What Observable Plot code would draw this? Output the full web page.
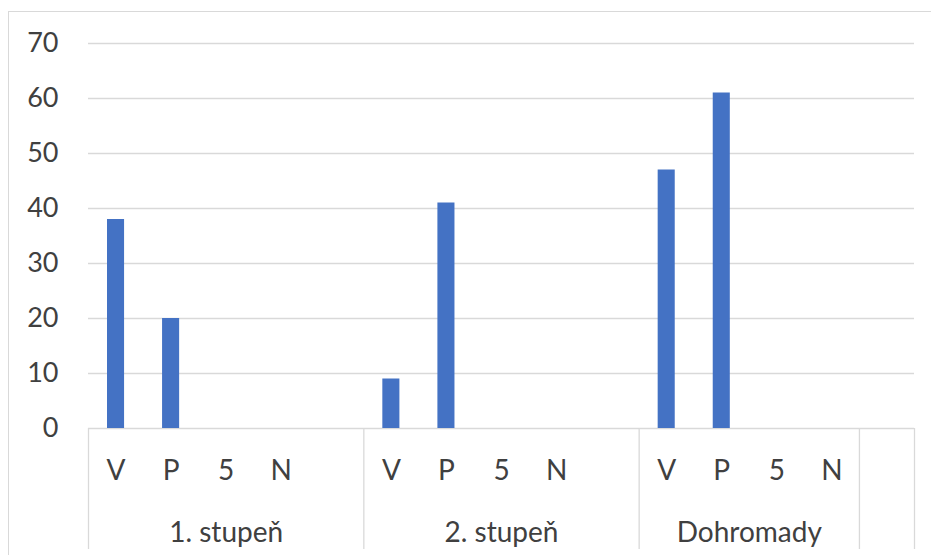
<!DOCTYPE html>
<html>
<head>
<meta charset="utf-8">
<script src="https://cdn.jsdelivr.net/npm/d3@7"></script>
<script src="https://cdn.jsdelivr.net/npm/@observablehq/plot@0.6"></script>
<style>
  html, body { margin: 0; padding: 0; background: #fff; overflow: hidden; }
  #wrap { position: relative; width: 931px; height: 555px; }
  #border { position: absolute; left: 8px; top: 11px; width: 1000px; height: 700px; border: 1px solid #d9d9d9; box-sizing: border-box; }
  #chart { position: absolute; left: 0; top: 0; }
</style>
</head>
<body>
<div id="wrap"><div id="border"></div><div id="chart"></div></div>
<script>
const groups = ["1. stupeň", "2. stupeň", "Dohromady", ""];
const groupSlots = [5, 5, 4, 1];
const categories = ["V", "P", "5", "N"];
const stupen1 = [38, 20, 0, 0];
const stupen2 = [9, 41, 0, 0];
const dohromady = [47, 61, 0, 0];
const yTicks = [0, 10, 20, 30, 40, 50, 60, 70];

const seriesByGroup = [stupen1, stupen2, dohromady];
const starts = [];
let acc = 0;
for (const n of groupSlots) { starts.push(acc); acc += n; }
const totalSlots = acc;

const rows = [];
seriesByGroup.forEach((vals, g) => {
  categories.forEach((c, k) => {
    rows.push({group: groups[g], cat: c, value: vals[k], slot: starts[g] + k});
  });
});
const groupRows = groups.map((name, g) => ({name, mid: starts[g] + groupSlots[g] / 2}));
const boundaries = [...starts, totalSlots];

const font = "Lato, 'Open Sans', sans-serif";
const textColor = "#404040";

const chart = Plot.plot({
  width: 931,
  height: 555,
  marginLeft: 88,
  marginRight: 17,
  marginTop: 43,
  marginBottom: 127,
  style: {fontFamily: font, background: "transparent", overflow: "visible"},
  x: {domain: [0, totalSlots], axis: null},
  y: {domain: [0, 70], axis: null},
  marks: [
    Plot.ruleY(yTicks, {stroke: "#d9d9d9", strokeWidth: 1.3}),
    Plot.rectY(rows.filter(d => d.value > 0), {
      x1: d => d.slot, x2: d => d.slot + 1, y: "value",
      insetLeft: 19, insetRight: 19, fill: "#4472C4"
    }),
    Plot.ruleX(boundaries, {y1: 0, y2: -22, stroke: "#d9d9d9", strokeWidth: 1.3}),
    Plot.text(rows, {x: d => d.slot + 0.5, y: 0, dy: 43, text: "cat", fontSize: 28, fill: textColor}),
    Plot.text(groupRows, {x: "mid", y: 0, dy: 105, text: "name", fontSize: 28, fill: textColor}),
    Plot.text(yTicks, {x: 0, y: d => d, text: d => String(d), textAnchor: "end", dx: -30, fontSize: 27, fill: textColor})
  ]
});
document.getElementById("chart").appendChild(chart);
</script>
</body>
</html>
